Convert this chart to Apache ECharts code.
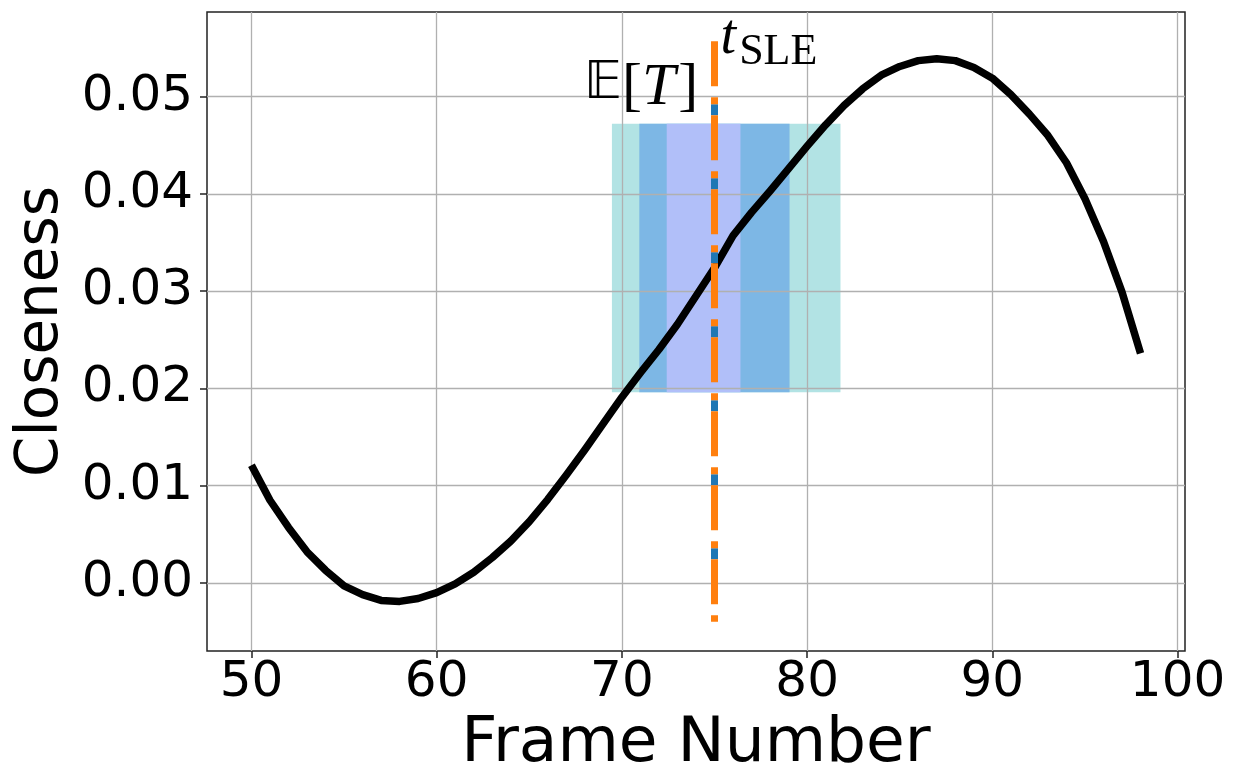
<!DOCTYPE html>
<html><head><meta charset="utf-8">
<script src="https://cdn.jsdelivr.net/npm/echarts@6/dist/echarts.min.js"></script>
<style>html,body{margin:0;padding:0;background:#fff}#c{width:1239px;height:781px}</style>
</head><body><div id="c"></div>
<script>
// ---- data ----
const frames = [50,51,52,53,54,55,56,57,58,59,60,61,62,63,64,65,66,67,68,69,70,71,72,73,74,75,76,77,78,79,80,81,82,83,84,85,86,87,88,89,90,91,92,93,94,95,96,97,98];
const closeness = [0.0121,0.0085,0.0057,0.0032,0.0013,-0.0003,-0.0012,-0.0018,-0.0019,-0.0016,-0.0010,-0.0001,0.0011,0.0026,0.0043,0.0063,0.0086,0.0111,0.0137,0.0164,0.0191,0.0216,0.0240,0.0266,0.0295,0.0324,0.0357,0.0381,0.0403,0.0426,0.0449,0.0471,0.0491,0.0508,0.0522,0.0531,0.0537,0.0539,0.0537,0.0530,0.0519,0.0502,0.0482,0.0460,0.0432,0.0395,0.0351,0.0299,0.0236];
const xTicks = [50,60,70,80,90,100];
const yTicks = [0,0.01,0.02,0.03,0.04,0.05];
const spanStart = [69.46,70.94,72.42];
const spanEnd = [81.8,79.05,76.4];
const spanLow = [0.0196,0.0196,0.0196];
const spanHigh = [0.0472,0.0472,0.0472];
const expectedT = 75;
const tSLE = 75;
const vlineLow = -0.0040;
const vlineHigh = 0.0557;
const labelEPos = [74.15,0.0512];
const labelTPos = [75.3,0.0553];

// ---- styles ----
const spanColors = ['#b2e3e4','#7db7e5','#b1bff9'];

const chart = echarts.init(document.getElementById('c'), null, {renderer:'canvas'});
const axisFont = 'DejaVu Sans';
chart.setOption({
  animation:false,
  backgroundColor:'#fff',
  grid:{left:207,top:12,right:54,bottom:130,containLabel:false,outerBoundsMode:'none',
    show:true,borderColor:'#222',borderWidth:1.5,backgroundColor:'transparent'},
  xAxis:{type:'value',min:47.6,max:100.4,z:1,
    axisLine:{show:false,onZero:false},
    axisTick:{show:true,customValues:xTicks,length:7,lineStyle:{color:'#222',width:1.5}},
    axisLabel:{customValues:xTicks,fontSize:50,color:'#000',fontFamily:axisFont,margin:7},
    splitLine:{show:true,customValues:xTicks,lineStyle:{color:'#b0b0b0',width:1.3}},
    name:'Frame Number',nameLocation:'middle',nameGap:60,
    nameTextStyle:{fontSize:63,fontFamily:axisFont,color:'#000'}},
  yAxis:{type:'value',min:-0.007,max:0.0587,z:1,
    axisLine:{show:false,onZero:false},
    axisTick:{show:true,customValues:yTicks,length:7,lineStyle:{color:'#222',width:1.5}},
    axisLabel:{customValues:yTicks,fontSize:50,color:'#000',fontFamily:axisFont,margin:14,
      formatter:v=>v.toFixed(2)},
    splitLine:{show:true,customValues:yTicks,lineStyle:{color:'#b0b0b0',width:1.3}},
    name:'Closeness',nameLocation:'middle',nameGap:136,
    nameTextStyle:{fontSize:58,fontFamily:axisFont,color:'#000'}},
  series:[
    {type:'custom',z:0,
      data:spanStart.map((s,i)=>[s,spanEnd[i],spanLow[i],spanHigh[i]]),
      encode:{x:[0,1],y:[2,3]},
      renderItem:(params,api)=>{
        const p0 = api.coord([api.value(0),api.value(3)]);
        const p1 = api.coord([api.value(1),api.value(2)]);
        return {type:'rect',shape:{x:p0[0],y:p0[1],width:p1[0]-p0[0],height:p1[1]-p0[1]},
          style:{fill:spanColors[params.dataIndex]}};
      }},
    {type:'line',z:3,symbol:'none',silent:true,
      data:frames.map((f,i)=>[f,closeness[i]]),
      lineStyle:{color:'#000',width:7.5,cap:'butt',join:'round'}},
    {type:'line',z:4,symbol:'none',silent:true,
      data:[[expectedT,vlineHigh],[expectedT,vlineLow]],
      lineStyle:{color:'#1f77b4',width:7,type:[11,63],dashOffset:11}},
    {type:'line',z:5,symbol:'none',silent:true,
      data:[[tSLE,vlineHigh],[tSLE,vlineLow]],
      lineStyle:{color:'#ff7f0e',width:7,type:[45,11,7,11]}},
    {type:'scatter',z:6,symbolSize:1,itemStyle:{color:'rgba(0,0,0,0)'},silent:true,
      data:[labelEPos],
      label:{show:true,position:'left',distance:0,opacity:1,
        formatter:'{bb|𝔼}{r|[}{i|T}{r|]}',
        rich:{
          bb:{fontFamily:'DejaVu Sans',fontSize:52,color:'#000',lineHeight:66,verticalAlign:'bottom',padding:[0,0,7,0]},
          r:{fontFamily:'Liberation Serif',fontSize:60,color:'#000',lineHeight:66,verticalAlign:'bottom'},
          i:{fontFamily:'Liberation Serif',fontStyle:'italic',fontSize:60,color:'#000',lineHeight:66,verticalAlign:'bottom',padding:[0,3,0,0]}
        }}},
    {type:'scatter',z:6,symbolSize:1,itemStyle:{color:'rgba(0,0,0,0)'},silent:true,
      data:[labelTPos],
      label:{show:true,position:'right',distance:0,opacity:1,
        formatter:'{t|t}{s|SLE}',
        rich:{
          t:{fontFamily:'Liberation Serif',fontStyle:'italic',fontSize:56,color:'#000',lineHeight:58,verticalAlign:'bottom',padding:[0,3,8,0]},
          s:{fontFamily:'Liberation Serif',fontSize:44,color:'#000',lineHeight:58,verticalAlign:'bottom'}
        }}}
  ]
});
</script></body></html>
